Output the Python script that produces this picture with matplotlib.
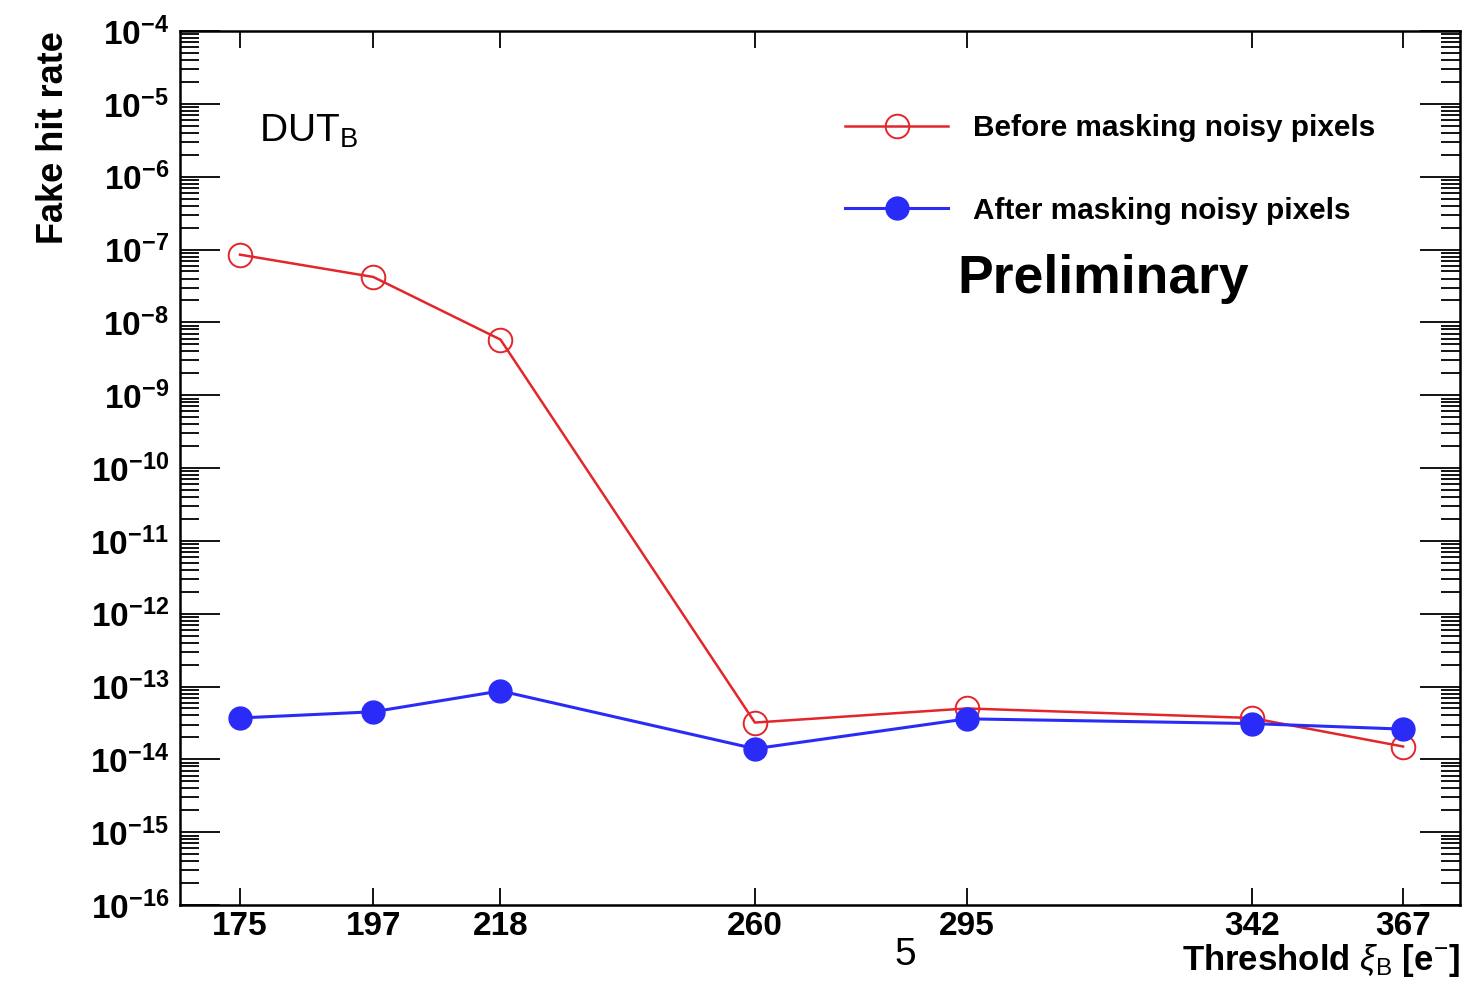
import numpy as np
import matplotlib
matplotlib.use("Agg")
import matplotlib.pyplot as plt
from matplotlib.ticker import LogLocator, FixedLocator, FuncFormatter, NullFormatter

plt.rcParams['font.family'] = ['Liberation Sans', 'DejaVu Sans']
plt.rcParams['mathtext.fontset'] = 'custom'
plt.rcParams['mathtext.rm'] = 'Liberation Sans'
plt.rcParams['mathtext.bf'] = 'Liberation Sans:bold'
plt.rcParams['mathtext.it'] = 'Liberation Sans:italic'

# 임계값(threshold)별 fake hit rate
threshold = [175, 197, 218, 260, 295, 342, 367]
rate_before = [8.5e-8, 4.2e-8, 5.8e-9, 3.2e-14, 5.0e-14, 3.7e-14, 1.5e-14]
rate_after = [3.7e-14, 4.5e-14, 8.7e-14, 1.4e-14, 3.6e-14, 3.1e-14, 2.6e-14]

red = '#e3262b'
blue = '#2b2bf8'

fig = plt.figure(figsize=(14.65, 9.82), dpi=100, facecolor='white')
ax = fig.add_axes([0.1229, 0.0784, 0.8737, 0.89])

ax.plot(threshold, rate_before, color=red, lw=1.8, marker='o', ms=17,
        mfc='none', mec=red, mew=1.4, label='Before masking noisy pixels')
ax.plot(threshold, rate_after, color=blue, lw=2.2, marker='o', ms=16.5,
        mfc=blue, mec=blue, label='After masking noisy pixels')

ax.set_yscale('log')
ax.set_ylim(1e-16, 1e-4)
ax.set_xlim(165.1, 376.4)

# 축 눈금 (ROOT 스타일: 안쪽, 양쪽)
ax.xaxis.set_major_locator(FixedLocator(threshold))
ax.xaxis.set_minor_locator(FixedLocator([]))
ax.yaxis.set_major_locator(LogLocator(base=10, numticks=20))
ax.yaxis.set_minor_locator(LogLocator(base=10, subs=np.arange(2, 10), numticks=200))
ax.yaxis.set_minor_formatter(NullFormatter())
ax.yaxis.set_major_formatter(FuncFormatter(
    lambda v, p: r'$\mathbf{10^{%d}}$' % int(round(np.log10(v)))))

ax.tick_params(axis='both', which='both', direction='in', top=True, right=True)
ax.tick_params(axis='y', which='major', length=29, width=1.3, labelsize=24, pad=8)
ax.tick_params(axis='y', which='minor', length=14, width=1.3)
ax.tick_params(axis='x', which='major', length=12, width=1.3, labelsize=24, pad=4)
for lab in ax.get_xticklabels():
    lab.set_fontweight('bold')
for s in ax.spines.values():
    s.set_linewidth(1.8)

ax.set_ylabel('Fake hit rate', fontsize=26, fontweight='bold', loc='top')
ax.yaxis.set_label_coords(-0.085, 1.0)
ax.set_xlabel(r'Threshold $\xi_{\rm B}$ [e$^{-}$]', fontsize=25,
              fontweight='bold', loc='right')
ax.xaxis.set_label_coords(1.0, -0.042)

ax.text(0.062, 0.885, r'DUT$_{\rm B}$', transform=ax.transAxes,
        fontsize=28, va='center', ha='left')
ax.text(0.607, 0.716, 'Preliminary', transform=ax.transAxes,
        fontsize=38.5, fontweight='bold', va='center', ha='left')

ax.legend(loc='upper left', bbox_to_anchor=(0.577, 0.884),
          bbox_transform=fig.transFigure, frameon=False,
          prop={'weight': 'bold', 'size': 21.4}, handlelength=3.45,
          handletextpad=0.85, labelspacing=1.85, borderpad=0, borderaxespad=0)

fig.text(0.618, 0.027, '5', fontsize=28, ha='center', va='center')

fig.savefig('out.png', dpi=100, facecolor='white')
